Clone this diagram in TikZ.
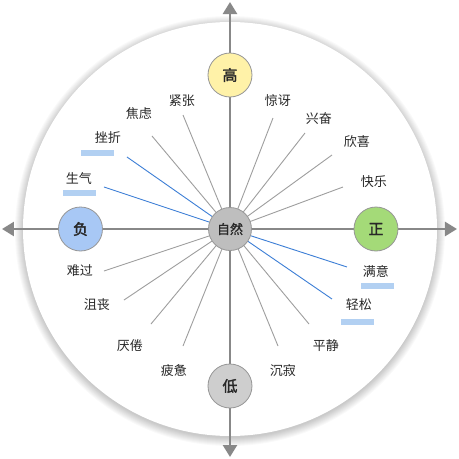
\documentclass[tikz,border=0pt]{standalone}
\usepackage{fontspec}
\setmainfont{Noto Sans CJK SC}
\newfontfamily\cjkbold[FakeBold=2.2]{Noto Sans CJK SC}
\newfontfamily\cjkmid[FakeBold=1.2]{Noto Sans CJK SC}
\usetikzlibrary{arrows.meta, positioning, backgrounds}
\definecolor{AxisGray}{RGB}{136, 136, 136}
\definecolor{SpokeGray}{RGB}{158, 158, 158}
\definecolor{TextDark}{RGB}{40, 40, 40}
\definecolor{EdgeGray}{RGB}{150, 150, 150}
\definecolor{SpokeBlue}{RGB}{60, 126, 214}
\definecolor{BarBlue}{RGB}{178, 208, 242}
\definecolor{PoleYellow}{RGB}{255, 242, 168}
\definecolor{PoleBlue}{RGB}{168, 200, 245}
\definecolor{PoleGreen}{RGB}{164, 218, 120}
\definecolor{PoleGray}{RGB}{206, 206, 206}
\definecolor{CoreGray}{RGB}{190, 190, 190}

\begin{document}
\begin{tikzpicture}[
    x=1pt, y=1pt,
    pole/.style={circle, draw=EdgeGray, line width=0.8pt, minimum size=44pt, inner sep=0pt,
      text=TextDark, font=\cjkbold\fontsize{15}{15}\selectfont},
    core/.style={circle, draw=EdgeGray, fill=CoreGray, line width=0.8pt, minimum size=43pt,
      inner sep=0pt, text=TextDark, font=\cjkmid\fontsize{13}{13}\selectfont},
    mood/.style={inner sep=0pt, text=TextDark, font=\fontsize{13}{13}\selectfont},
    spoke/.style={SpokeGray, line width=0.9pt},
    hot/.style={SpokeBlue, line width=0.9pt},
    bar/.style={fill=BarBlue, draw=none, minimum width=33pt, minimum height=6pt, inner sep=0pt},
    axis/.style={-{Triangle[length=12pt, width=14pt]}, AxisGray, line width=2.5pt}
  ]
    \useasboundingbox (-230,-230) rectangle (229,229);

    % Centre and poles
    \node[core] (zr) at (0,0) {自然};
    \node[pole, fill=PoleYellow] (gao) at (0,154) {高};
    \node[pole, fill=PoleGray] (di) at (0,-157) {低};
    \node[pole, fill=PoleBlue] (fu) at (-149.5,0) {负};
    \node[pole, fill=PoleGreen] (zh) at (146,0) {正};

    % Arrow ends
    \coordinate (top) at (0,227);
    \coordinate (bot) at (0,-228);
    \coordinate (lft) at (-228,0);
    \coordinate (rgt) at (227,0);

    % Spoke ends
    \foreach \n/\x/\y in {jz/-47/114, jl/-78/93, cz/-103/72, sq/-126/42,
                          jy/43/111, xf/75/96, xx/102/74, kl/113/42,
                          ng/-126/-42, js/-106/-71, yj/-79/-95, pb/-47/-117,
                          cj/48/-117, pj/79/-95, qs/102/-70, my/117/-38} {
      \coordinate (e\n) at (\x,\y);
    }

    \begin{scope}[on background layer]
      % Soft shadow and disc
      \fill[white] (-230,-230) rectangle (229,229);
      \foreach \k in {1,...,9} {
        \fill[black, opacity=0.022] (0,-2) circle (206+\k);
      }
      \fill[white] (0,0) circle (207);

      % Spokes
      \foreach \n in {jz, jl, jy, xf, xx, kl, ng, js, yj, pb, cj, pj} {
        \draw[spoke] (zr.center) -- (e\n);
      }
      \foreach \n in {cz, sq, qs, my} {
        \draw[hot] (zr.center) -- (e\n);
      }

      % Axes
      \draw[axis] (zr.center) -- (top);
      \draw[axis] (zr.center) -- (bot);
      \draw[axis] (zr.center) -- (lft);
      \draw[axis] (zr.center) -- (rgt);
    \end{scope}

    % Mood labels
    \foreach \n/\x/\y/\t in {jz/-48/128/紧张, jl/-91/115/焦虑, cz/-122/91/挫折, sq/-151/50/生气,
                             jy/48/128/惊讶, xf/89/110/兴奋, xx/127/87/欣喜, kl/144/47/快乐,
                             ng/-150/-42/难过, js/-133/-76/沮丧, yj/-100/-117/厌倦, pb/-56/-142/疲惫,
                             cj/53/-142/沉寂, pj/96/-117/平静, qs/129/-76/轻松, my/146/-42/满意} {
      \node[mood] (l\n) at (\x,\y) {\t};
    }

    % Highlight bars
    \node[bar] (bcz) at (-132.5,76) {};
    \node[bar] (bsq) at (-150.5,36) {};
    \node[bar] (bmy) at (147.5,-57) {};
    \node[bar] (bqs) at (127.5,-93) {};
  \end{tikzpicture}
\end{document}
